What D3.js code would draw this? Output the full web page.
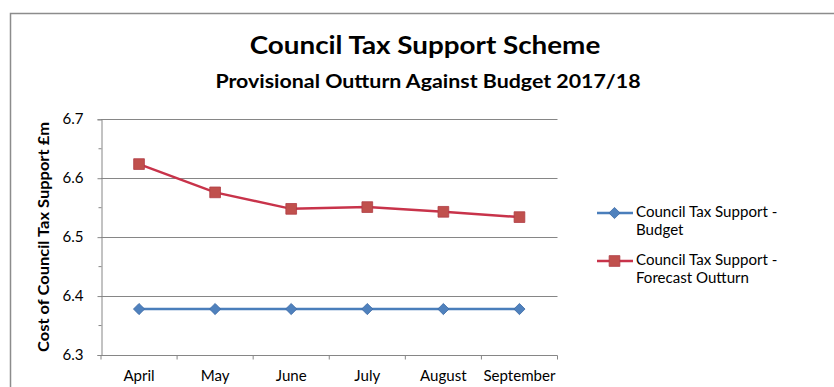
<!DOCTYPE html>
<html>
<head>
<meta charset="utf-8">
<script src="https://cdn.jsdelivr.net/npm/d3@7/dist/d3.min.js"></script>
<style>
  html, body { margin: 0; padding: 0; background: #fff; }
  svg { display: block; }
  text { font-family: Lato, "Open Sans", sans-serif; fill: #000; }
</style>
</head>
<body>
<svg id="chart" width="834" height="387"></svg>
<script>
// Monthly figures, £m
const months = ["April", "May", "June", "July", "August", "September"];
const budget = [6.378, 6.378, 6.378, 6.378, 6.378, 6.378];
const forecast = [6.624, 6.576, 6.548, 6.551, 6.543, 6.534];
const yTicks = [6.3, 6.4, 6.5, 6.6, 6.7];
const yMinorTicks = [6.35, 6.45, 6.55, 6.65];
const seriesNames = [
  ["Council Tax Support -", "Budget"],
  ["Council Tax Support -", "Forecast Outturn"]
];

const svg = d3.select("#chart");
const W = 834, H = 387;
const plot = { left: 101, right: 557.5, top: 119.3, bottom: 355 };
const FS = 14.5;     // body text size
const SX = 1.04;     // slight horizontal widening of the type

// widen a text element horizontally about its own anchor point
function widen(sel, sx) {
  sel.each(function () {
    const t = d3.select(this);
    const x0 = +t.attr("x") || 0, y0 = +t.attr("y") || 0;
    t.attr("transform", `translate(${x0},${y0}) scale(${sx},1) translate(${-x0},${-y0})`);
  });
}

// outer chart frame (runs past the right and bottom edges)
svg.append("rect")
  .attr("x", 10.5).attr("y", 13.5)
  .attr("width", W + 20).attr("height", H + 20)
  .attr("fill", "#fff").attr("stroke", "#8c8c8c").attr("stroke-width", 1.5);

// titles
svg.append("text").attr("x", 425).attr("y", 54)
  .attr("text-anchor", "middle").attr("font-size", 24.5).attr("font-weight", "bold")
  .text("Council Tax Support Scheme").call(widen, 1.135);
svg.append("text").attr("x", 428).attr("y", 88)
  .attr("text-anchor", "middle").attr("font-size", 18.5).attr("font-weight", "bold")
  .text("Provisional Outturn Against Budget 2017/18").call(widen, 1.155);

const x = d3.scaleBand().domain(months).range([plot.left, plot.right]);
const y = d3.scaleLinear().domain([6.3, 6.7]).range([plot.bottom, plot.top]);

// horizontal gridlines
svg.append("g").selectAll("line").data(yTicks.filter(t => t > 6.3)).join("line")
  .attr("x1", plot.left).attr("x2", plot.right)
  .attr("y1", d => Math.round(y(d)) + 0.5).attr("y2", d => Math.round(y(d)) + 0.5)
  .attr("stroke", "#868686").attr("stroke-width", 1);

// y axis
const yAxis = svg.append("g")
  .attr("transform", `translate(${plot.left + 0.5},0)`)
  .call(d3.axisLeft(y).tickValues(yTicks).tickFormat(d3.format(".1f")).tickSize(4).tickPadding(14));
yAxis.select(".domain").attr("stroke", "#868686");
yAxis.selectAll(".tick line").attr("stroke", "#868686");
yAxis.selectAll(".tick text").attr("font-size", FS).attr("font-family", "Lato, sans-serif")
  .attr("fill", "#000").attr("y", 0).call(widen, SX);
yAxis.append("g").selectAll("line").data(yMinorTicks).join("line")
  .attr("x1", -3).attr("x2", 0)
  .attr("y1", d => y(d)).attr("y2", d => y(d))
  .attr("stroke", "#868686");

// x axis with ticks between categories
const xAxis = svg.append("g")
  .attr("transform", `translate(0,${Math.round(plot.bottom) + 0.5})`);
xAxis.append("line").attr("x1", plot.left).attr("x2", plot.right)
  .attr("stroke", "#868686");
const bounds = months.map(m => x(m)).concat([plot.right]);
xAxis.selectAll("line.tk").data(bounds).join("line").attr("class", "tk")
  .attr("x1", d => d).attr("x2", d => d).attr("y1", 0).attr("y2", 4)
  .attr("stroke", "#868686");
xAxis.selectAll("text").data(months).join("text")
  .attr("x", d => x(d) + x.bandwidth() / 2).attr("y", 26)
  .attr("text-anchor", "middle").attr("font-size", FS)
  .text(d => d).call(widen, SX);

// y axis title
svg.append("text")
  .attr("transform", "translate(49,237) rotate(-90) scale(1.1,1)")
  .attr("text-anchor", "middle").attr("font-size", 15).attr("font-weight", "bold")
  .text("Cost of Council Tax Support £m");

const cx = d => x(d) + x.bandwidth() / 2;
const line = d3.line().x(d => cx(d.m)).y(d => y(d.v));
const blueLine = "#4a7ebb", blueMark = "#4f81bd";
const redLine = "#c8334a", redMark = "#c0504d";

const bData = months.map((m, i) => ({ m, v: budget[i] }));
const fData = months.map((m, i) => ({ m, v: forecast[i] }));

svg.append("path").datum(bData).attr("d", line)
  .attr("fill", "none").attr("stroke", blueLine).attr("stroke-width", 2.5);
svg.append("path").datum(fData).attr("d", line)
  .attr("fill", "none").attr("stroke", redLine).attr("stroke-width", 2.5);

const diamond = d3.symbol().type(d3.symbolDiamond2).size(80);
const square = d3.symbol().type(d3.symbolSquare).size(115);

svg.append("g").selectAll("path").data(bData).join("path")
  .attr("d", diamond)
  .attr("transform", d => `translate(${cx(d.m)},${y(d.v)})`)
  .attr("fill", blueMark).attr("stroke", "#3c6aa5").attr("stroke-width", 0.8);
svg.append("g").selectAll("path").data(fData).join("path")
  .attr("d", square)
  .attr("transform", d => `translate(${cx(d.m)},${y(d.v)})`)
  .attr("fill", redMark).attr("stroke", "#b03c45").attr("stroke-width", 0.8);

// legend
const legend = svg.append("g");
const legendRows = [
  { y: 213, lc: blueLine, mc: blueMark, sym: diamond, sc: "#3c6aa5" },
  { y: 261, lc: redLine, mc: redMark, sym: square, sc: "#b03c45" }
];
legendRows.forEach((r, i) => {
  legend.append("line").attr("x1", 597).attr("x2", 633)
    .attr("y1", r.y).attr("y2", r.y).attr("stroke", r.lc).attr("stroke-width", 2.5);
  legend.append("path").attr("d", r.sym)
    .attr("transform", `translate(614.5,${r.y})`)
    .attr("fill", r.mc).attr("stroke", r.sc).attr("stroke-width", 0.8);
  seriesNames[i].forEach((s, j) => {
    legend.append("text").attr("x", 636).attr("y", r.y + 4 + j * 18.5)
      .attr("font-size", FS).text(s).call(widen, SX);
  });
});
</script>
</body>
</html>
